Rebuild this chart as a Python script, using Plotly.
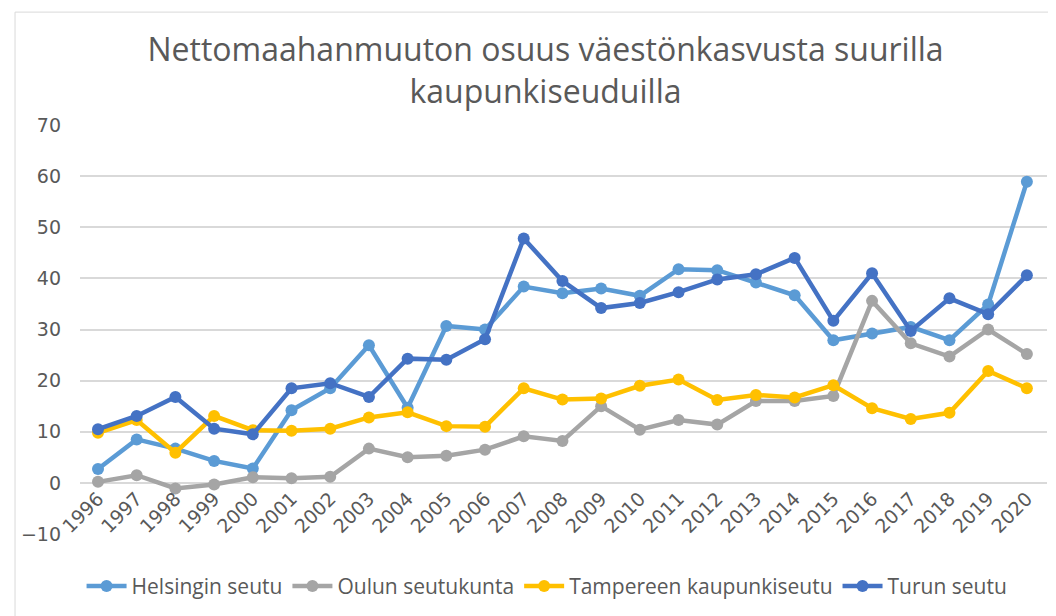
import plotly.graph_objects as go

years = [str(y) for y in range(1996, 2021)]

helsinki = [2.7, 8.5, 6.7, 4.3, 2.8, 14.2, 18.5, 26.9, 14.7, 30.7, 30.0, 38.4,
            37.1, 38.0, 36.6, 41.8, 41.6, 39.2, 36.7, 27.9, 29.2, 30.5, 27.9, 34.9, 58.9]
oulu = [0.2, 1.5, -1.1, -0.3, 1.1, 0.9, 1.2, 6.7, 5.0, 5.3, 6.5, 9.1,
        8.2, 15.0, 10.4, 12.3, 11.4, 16.0, 16.0, 17.0, 35.6, 27.3, 24.7, 30.0, 25.2]
tampere = [9.8, 12.3, 5.9, 13.1, 10.3, 10.2, 10.6, 12.8, 13.8, 11.1, 11.0, 18.5,
           16.3, 16.5, 19.0, 20.2, 16.2, 17.2, 16.7, 19.1, 14.6, 12.5, 13.7, 21.9, 18.5]
turku = [10.5, 13.1, 16.8, 10.6, 9.5, 18.5, 19.5, 16.8, 24.3, 24.1, 28.1, 47.8,
         39.5, 34.2, 35.2, 37.3, 39.8, 40.8, 44.0, 31.7, 41.0, 29.7, 36.1, 33.0, 40.6]

series_names = ["Helsingin seutu", "Oulun seutukunta", "Tampereen kaupunkiseutu", "Turun seutu"]
series_values = [helsinki, oulu, tampere, turku]
colors = ["#5B9BD5", "#A5A5A5", "#FFC000", "#4472C4"]

title_text = "Nettomaahanmuuton osuus väestönkasvusta suurilla<br>kaupunkiseuduilla"
font_family = "Open Sans"
tick_family = "DejaVu Sans"
text_color = "#595959"

fig = go.Figure()
for name, vals, col in zip(series_names, series_values, colors):
    fig.add_trace(go.Scatter(
        x=years, y=vals, name=name, mode="lines+markers",
        line=dict(color=col, width=4.5),
        marker=dict(color=col, size=12),
    ))

fig.update_layout(
    width=1056, height=616,
    paper_bgcolor="white", plot_bgcolor="white",
    margin=dict(l=72, r=17, t=117, b=90),
    font=dict(family=font_family, color=text_color),
    title=dict(text=title_text, x=0.509, xref="container", xanchor="center",
               y=0.914, yref="container", yanchor="top",
               font=dict(size=32, color=text_color, family=font_family)),
    showlegend=True,
    legend=dict(orientation="h", x=0.483, xref="paper", xanchor="center",
                y=-0.078, yanchor="top", font=dict(size=21, color=text_color),
                itemwidth=40, tracegroupgap=0),
    xaxis=dict(type="category", range=[-0.465, 24.52], showgrid=False,
               showline=False, zeroline=False, tickangle=-45,
               tickfont=dict(size=19, color=text_color, family=tick_family),
               anchor="free", position=0.125, ticks=""),
    yaxis=dict(range=[-10, 70], dtick=10, showgrid=True, gridcolor="#D9D9D9",
               gridwidth=1.5, zeroline=False, showline=False,
               tickfont=dict(size=19, color=text_color, family=tick_family),
               ticklabelstandoff=18),
    shapes=[dict(type="rect", xref="paper", yref="paper", x0=-0.0672, x1=2,
                 y0=-2, y1=1.276, line=dict(color="#D9D9D9", width=1),
                 fillcolor="rgba(0,0,0,0)", layer="below")],
)

fig.write_html("out.html")
